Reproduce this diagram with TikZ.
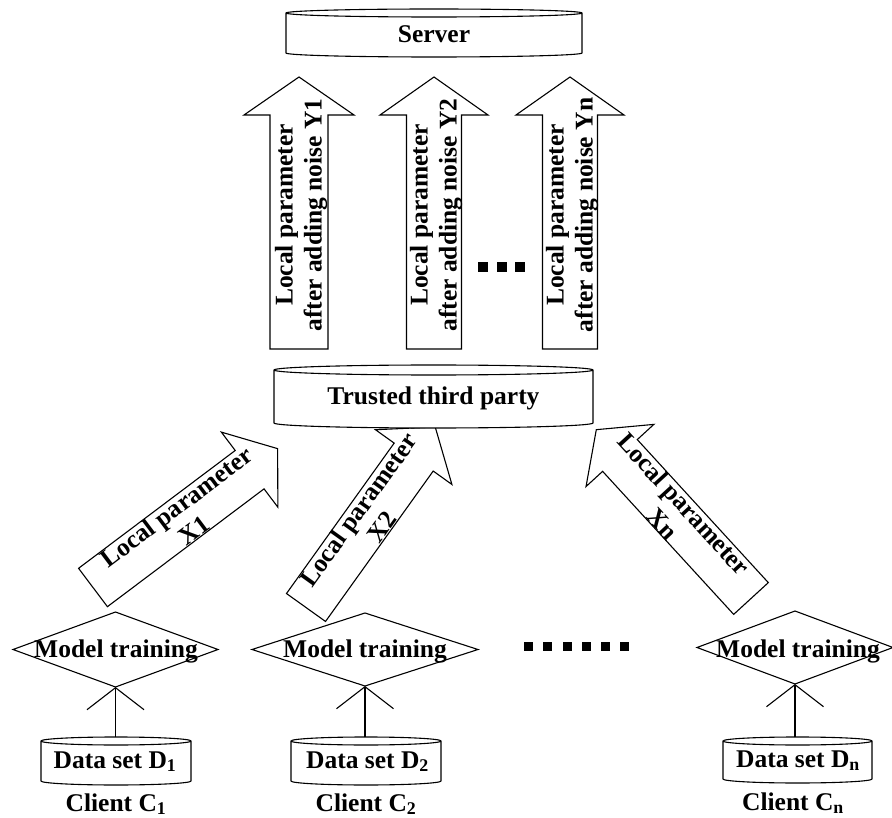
\documentclass[tikz,border=0pt]{standalone}
\usepackage{fontspec}
\setmainfont{Liberation Serif}
\usetikzlibrary{shapes.geometric,arrows.meta}
\pgfdeclarelayer{bg}
\pgfsetlayers{bg,main}
\newcommand\canoutline[3]{%
  \draw[canline] ([yshift=-#3]#1.north west) -- ([yshift=#3]#1.south west)
    arc[start angle=180,end angle=360,x radius=#2,y radius=#3]
    -- ([yshift=-#3]#1.north east)
    arc[start angle=0,end angle=180,x radius=#2,y radius=#3] -- cycle
    ([yshift=-#3]#1.north east) arc[start angle=0,end angle=-180,x radius=#2,y radius=#3];}
\newcommand\blockarrow[6]{%
  \begin{scope}[shift={(#1)},rotate=#2]
    \draw[blockline] (0pt,-#5) -- (#3,-#5) -- (#3,-#6) -- (#4,0pt) -- (#3,#6) -- (#3,#5) -- (0pt,#5) -- cycle;
  \end{scope}}
\tikzset{
  txt/.style={font=\fontsize{25.5}{29}\selectfont\bfseries, inner sep=0pt, outer sep=0pt, align=center},
  canbox/.style={inner sep=0pt, outer sep=0pt},
  canline/.style={draw=black, fill=white, line width=1.1pt},
  blockline/.style={draw=black, fill=white, line width=1.1pt, line join=miter},
  mtbox/.style={diamond, draw=black, line width=1.1pt, inner sep=0pt, outer sep=0pt},
  sq/.style={fill=black, inner sep=0pt, minimum size=#1},
  feed/.style={line width=1.1pt, -{Straight Barb[length=22pt,width=57pt]}},
}
\begin{document}
\begin{tikzpicture}[x=1pt,y=-1pt]
\useasboundingbox (0,0) rectangle (892,818);

% cylinder geometry nodes
\node[canbox, minimum width=296pt, minimum height=48pt] (server) at (434,33) {};
\node[canbox, minimum width=319pt, minimum height=63pt] (ttp) at (433.5,396.5) {};
\node[canbox, minimum width=150pt, minimum height=48pt] (ds1) at (116,761) {};
\node[canbox, minimum width=150pt, minimum height=48pt] (ds2) at (366,761) {};
\node[canbox, minimum width=149pt, minimum height=46pt] (ds3) at (797.5,760) {};

% arrow tails
\coordinate (ta1) at (299,349);
\coordinate (ta2) at (434,349);
\coordinate (ta3) at (570,349);
\coordinate (tx1) at (93,587.5);
\coordinate (tx2) at (306,607.5);
\coordinate (txn) at (751,598.5);

\begin{pgfonlayer}{bg}
  \blockarrow{ta1}{90}{234pt}{272pt}{29pt}{55pt}
  \blockarrow{ta2}{90}{234pt}{272pt}{27.5pt}{54pt}
  \blockarrow{ta3}{90}{234pt}{272pt}{27.5pt}{54pt}
  \blockarrow{tx1}{36.95}{196pt}{231pt}{24pt}{47pt}
  \blockarrow{tx2}{54.4}{185pt}{222pt}{24pt}{47pt}
  \blockarrow{txn}{132.5}{194pt}{229pt}{23.5pt}{46pt}
  \canoutline{server}{148pt}{4pt}
  \canoutline{ttp}{159.5pt}{5pt}
  \canoutline{ds1}{75pt}{4pt}
  \canoutline{ds2}{75pt}{4pt}
  \canoutline{ds3}{74.5pt}{4pt}
\end{pgfonlayer}

% texts in cylinders
\node[txt, anchor=base] (servert) at (434,43) {Server};
\node[txt, anchor=base] (ttpt) at (433.5,405) {Trusted third party};
\node[txt, anchor=base] (dst1) at (115,768) {Data set D\textsubscript{1}};
\node[txt, anchor=base] (dst2) at (367.5,768) {Data set D\textsubscript{2}};
\node[txt, anchor=base] (dst3) at (798,767) {Data set D\textsubscript{n}};
\node[txt, anchor=base] (cl1) at (116,811) {Client C\textsubscript{1}};
\node[txt, anchor=base] (cl2) at (366,811) {Client C\textsubscript{2}};
\node[txt, anchor=base] (cl3) at (793,810) {Client C\textsubscript{n}};

% model training diamonds
\node[mtbox, minimum width=205pt, minimum height=75pt] (mt1) at (115.5,649.5) {};
\node[mtbox, minimum width=226pt, minimum height=73pt] (mt2) at (365,649.5) {};
\node[mtbox, minimum width=196pt, minimum height=73pt] (mt3) at (795,647.5) {};
\node[txt, anchor=base] (mtt1) at (116,657) {Model training};
\node[txt, anchor=base] (mtt2) at (365,657) {Model training};
\node[txt, anchor=base] (mtt3) at (798,657) {Model training};

% feeds from data sets to training
\draw[feed] (mt1.south |- ds1.north) -- (mt1.south);
\draw[feed] (mt2.south |- ds2.north) -- (mt2.south);
\draw[feed] (mt3.south |- ds3.north) -- (mt3.south);

% arrow labels
\node[txt, rotate=90] (ya1) at (301,215) {Local parameter\\after adding noise Y1};
\node[txt, rotate=90] (ya2) at (436,215) {Local parameter\\after adding noise Y2};
\node[txt, rotate=90] (ya3) at (572,215) {Local parameter\\after adding noise Yn};
\node[txt, rotate=36.95] (xl1) at (184.9,518.4) {Local parameter\\X1};
\node[txt, rotate=54.4] (xl2) at (370,518) {Local parameter\\X2};
\node[txt, rotate=-47.5] (xln) at (673.4,513.7) {Local parameter\\Xn};

% dots
\node[sq=10pt] (td1) at (483,267) {};
\node[sq=10pt] (td2) at (502,267) {};
\node[sq=10pt] (td3) at (520,267) {};
\node[sq=9pt] (bd1) at (528.5,646.5) {};
\node[sq=9pt] (bd2) at (547.5,646.5) {};
\node[sq=9pt] (bd3) at (567,646.5) {};
\node[sq=9pt] (bd4) at (586,646.5) {};
\node[sq=9pt] (bd5) at (605.5,646.5) {};
\node[sq=9pt] (bd6) at (624,646.5) {};
\end{tikzpicture}
\end{document}
